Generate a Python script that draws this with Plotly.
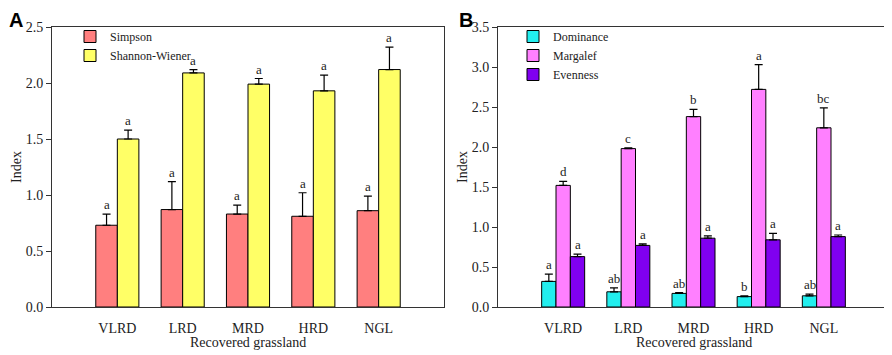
import plotly.graph_objects as go

# ---- data ----
categories = ["VLRD", "LRD", "MRD", "HRD", "NGL"]

simpson = [0.73, 0.87, 0.83, 0.81, 0.86]
simpson_err = [0.10, 0.25, 0.08, 0.21, 0.13]
simpson_lbl = ["a", "a", "a", "a", "a"]

shannon = [1.50, 2.09, 1.99, 1.93, 2.12]
shannon_err = [0.08, 0.03, 0.05, 0.14, 0.20]
shannon_lbl = ["a", "a", "a", "a", "a"]

dominance = [0.32, 0.19, 0.17, 0.13, 0.14]
dominance_err = [0.09, 0.05, 0.01, 0.01, 0.02]
dominance_lbl = ["a", "ab", "ab", "b", "ab"]

margalef = [1.52, 1.98, 2.38, 2.72, 2.24]
margalef_err = [0.05, 0.01, 0.09, 0.31, 0.25]
margalef_lbl = ["d", "c", "b", "a", "bc"]

evenness = [0.63, 0.77, 0.86, 0.84, 0.88]
evenness_err = [0.03, 0.02, 0.03, 0.08, 0.02]
evenness_lbl = ["a", "a", "a", "a", "a"]

x_title = "Recovered grassland"
y_title = "Index"

# ---- styling ----
# page body has an 8px default margin; the figure is sized/positioned to compensate
OFF = 8
W, H = 884, 347
SERIF = "Liberation Serif"
colors = {
    "Simpson": "#FF7F7F",
    "Shannon-Wiener": "#FFFF66",
    "Dominance": "#22EEEE",
    "Margalef": "#FF80FF",
    "Evenness": "#8000F0",
}
xidx = list(range(len(categories)))

fig = go.Figure()

def add_group(series, xaxis, yaxis, legend):
    n = len(series)
    total = 0.66
    bw = total / n
    annotations = []
    for k, (name, vals, errs, lbls) in enumerate(series):
        off = -total / 2 + k * bw
        fig.add_trace(go.Bar(
            x=xidx, y=vals, name=name, width=bw, offset=off,
            marker=dict(color=colors[name], line=dict(color="black", width=1)),
            error_y=dict(type="data", symmetric=False, array=errs,
                         arrayminus=[0] * len(vals), color="black",
                         thickness=1.2, width=4),
            xaxis=xaxis, yaxis=yaxis, legend=legend,
        ))
        for i, (v, e, l) in enumerate(zip(vals, errs, lbls)):
            annotations.append(dict(
                x=i + off + bw / 2, y=v + e, text=l, showarrow=False,
                xref=xaxis, yref=yaxis, yanchor="bottom", yshift=0,
                font=dict(family=SERIF, size=13, color="#222"),
            ))
    # x-axis title placed below the tick labels
    annotations.append(dict(
        text=x_title, x=0.5, y=0, xref=f"{xaxis} domain", yref=f"{yaxis} domain",
        xanchor="center", yanchor="middle", yshift=-35, showarrow=False,
        font=dict(family=SERIF, size=14, color="#222"),
    ))
    return annotations

ann = []
ann += add_group([
    ("Simpson", simpson, simpson_err, simpson_lbl),
    ("Shannon-Wiener", shannon, shannon_err, shannon_lbl),
], "x", "y", "legend")
ann += add_group([
    ("Dominance", dominance, dominance_err, dominance_lbl),
    ("Margalef", margalef, margalef_err, margalef_lbl),
    ("Evenness", evenness, evenness_err, evenness_lbl),
], "x2", "y2", "legend2")

def px_x(x):
    return (x - OFF) / W

def px_y(y):
    return 1 - (y - OFF) / H

ytop = px_y(27)
ybot = px_y(307)
dA = [px_x(52), px_x(444)]
dB = [px_x(498), px_x(889)]

xax = dict(range=[-1, 5], tickmode="array", tickvals=xidx, ticktext=categories,
           showline=True, mirror=True, linecolor="#333", linewidth=1,
           ticks="", showgrid=False, zeroline=False, automargin=False,
           ticklabelstandoff=8,
           tickfont=dict(family=SERIF, size=14, color="#222"))
yax = dict(showline=True, mirror=True, linecolor="#333", linewidth=1,
           ticks="outside", ticklen=5, tickcolor="#333", showgrid=False,
           zeroline=False, tickformat=".1f", automargin=False,
           tickfont=dict(family=SERIF, size=14, color="#222"),
           title=dict(text=y_title, standoff=0,
                      font=dict(family=SERIF, size=14, color="#222")))

legend_common = dict(bgcolor="rgba(0,0,0,0)", borderwidth=0, tracegroupgap=0,
                     font=dict(family=SERIF, size=12, color="#222"),
                     xanchor="left", yanchor="top", itemwidth=30,
                     traceorder="normal")

fig.update_layout(
    width=W, height=H,
    margin=dict(l=0, r=0, t=0, b=0),
    paper_bgcolor="white", plot_bgcolor="white",
    barmode="overlay",
    xaxis=dict(xax, domain=dA, anchor="y"),
    yaxis=dict(yax, domain=[ybot, ytop], range=[0, 2.5], dtick=0.5, anchor="x"),
    xaxis2=dict(xax, domain=dB, anchor="y2"),
    yaxis2=dict(yax, domain=[ybot, ytop], range=[0, 3.5], dtick=0.5, anchor="x2"),
    legend=dict(legend_common, x=px_x(70), y=px_y(22)),
    legend2=dict(legend_common, x=px_x(513), y=px_y(22)),
    annotations=ann + [
        dict(text="<b>A</b>", x=0, y=1, xref="paper", yref="paper",
             xanchor="left", yanchor="top", showarrow=False, borderpad=0,
             font=dict(family="Liberation Sans", size=20, color="black")),
        dict(text="<b>B</b>", x=px_x(474), y=1, xref="paper", yref="paper",
             xanchor="right", yanchor="top", showarrow=False, borderpad=0,
             font=dict(family="Liberation Sans", size=20, color="black")),
    ],
)

fig.write_html("out.html")
